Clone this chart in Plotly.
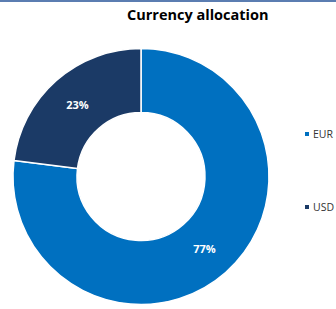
import plotly.graph_objects as go

categories = ["EUR", "USD"]
values = [77, 23]
colors = ["#0070C0", "#1B3A66"]
title_text = "Currency allocation"

W, H = 336, 309

fig = go.Figure()
fig.add_trace(go.Pie(
    labels=categories,
    values=values,
    hole=0.5,
    sort=False,
    direction="clockwise",
    rotation=0,
    marker=dict(colors=colors, line=dict(color="white", width=1.5)),
    textinfo="percent",
    texttemplate="<b>%{percent:.0%}</b>",
    textposition="inside",
    insidetextorientation="horizontal",
    textfont=dict(color="white", size=11, family="Open Sans"),
    domain=dict(x=[13 / W, 269 / W], y=[4.5 / H, 260.5 / H]),
    showlegend=False,
    hoverinfo="label+percent",
))

legend_y = [134, 207]
shapes = [dict(type="rect", xref="paper", yref="paper",
               x0=0, x1=1, y0=1 - 2 / H, y1=1,
               fillcolor="#5B7DB1", line=dict(width=0))]
annotations = [dict(text="<b>" + title_text + "</b>", x=198 / W, y=1 - 15 / H,
                    xref="paper", yref="paper", showarrow=False,
                    xanchor="center", yanchor="middle",
                    font=dict(size=14.5, family="Open Sans", color="#000000"))]
for cat, col, ly in zip(categories, colors, legend_y):
    shapes.append(dict(type="rect", xref="paper", yref="paper",
                       x0=305 / W, x1=309 / W, y0=1 - (ly + 2) / H, y1=1 - (ly - 2) / H,
                       fillcolor=col, line=dict(width=0)))
    annotations.append(dict(text=cat, x=311 / W, y=1 - ly / H, xref="paper", yref="paper",
                            showarrow=False, xanchor="left", yanchor="middle",
                            font=dict(size=10.5, family="Open Sans", color="#333333")))

fig.update_layout(
    width=W, height=H,
    margin=dict(l=0, r=0, t=0, b=0),
    paper_bgcolor="white",
    plot_bgcolor="white",
    shapes=shapes,
    annotations=annotations,
)

fig.write_html(
    "out.html",
    config={"displayModeBar": False},
    post_script="document.body.style.margin='0';document.body.style.overflow='hidden';",
)
